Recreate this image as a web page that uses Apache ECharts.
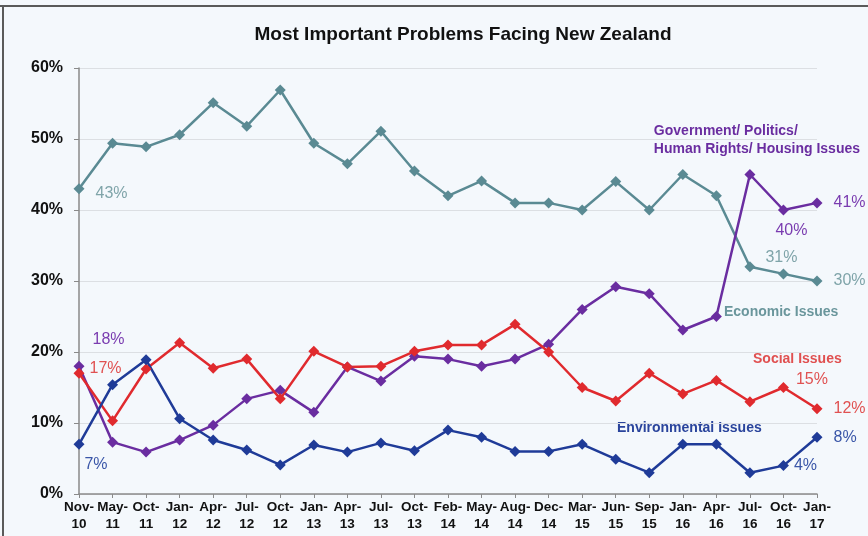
<!DOCTYPE html>
<html>
<head>
<meta charset="utf-8">
<script src="https://cdn.jsdelivr.net/npm/echarts@6/dist/echarts.min.js"></script>
<style>
  html, body { margin: 0; padding: 0; background: #ffffff; }
  #chart { width: 868px; height: 536px; }
</style>
</head>
<body>
<div id="chart"></div>
<script>
// Survey periods (two-line axis labels)
const categories = [
  'Nov-\n10', 'May-\n11', 'Oct-\n11', 'Jan-\n12', 'Apr-\n12', 'Jul-\n12', 'Oct-\n12',
  'Jan-\n13', 'Apr-\n13', 'Jul-\n13', 'Oct-\n13', 'Feb-\n14', 'May-\n14', 'Aug-\n14',
  'Dec-\n14', 'Mar-\n15', 'Jun-\n15', 'Sep-\n15', 'Jan-\n16', 'Apr-\n16', 'Jul-\n16',
  'Oct-\n16', 'Jan-\n17'
];

// Share of respondents naming each problem (%)
const economic = [43, 49.4, 48.9, 50.6, 55.1, 51.8, 56.9, 49.4, 46.5, 51.1, 45.5, 42, 44.1, 41, 41, 40, 44, 40, 45, 42, 32, 31, 30];
const government = [18, 7.3, 5.9, 7.6, 9.7, 13.4, 14.6, 11.5, 17.9, 15.9, 19.4, 19, 18, 19, 21.1, 26, 29.2, 28.2, 23.1, 25, 45, 40, 41];
const social = [17, 10.3, 17.6, 21.3, 17.7, 19, 13.4, 20.1, 17.9, 18, 20.1, 21, 21, 23.9, 20, 15, 13.1, 17, 14.1, 16, 13, 15, 12];
const environmental = [7, 15.4, 18.9, 10.6, 7.6, 6.2, 4.1, 6.9, 5.9, 7.2, 6.1, 9, 8, 6, 6, 7, 4.9, 3, 7, 7, 3, 4, 8];

const yTicks = [0, 10, 20, 30, 40, 50, 60];

const FONT = '"Liberation Sans", Arial, sans-serif';

// Attach a value label to selected points of a series
function withLabels(values, labelled, color) {
  return values.map((v, i) => {
    const cfg = labelled[i];
    if (!cfg) return v;
    return {
      value: v,
      label: Object.assign({
        show: true,
        formatter: Math.round(v) + '%',
        color: color,
        fontSize: 16,
        fontFamily: FONT
      }, cfg)
    };
  });
}

function lineSeries(name, values, color, labelColor, labelled) {
  return {
    name: name,
    type: 'line',
    data: withLabels(values, labelled, labelColor),
    symbol: 'diamond',
    symbolSize: 11,
    lineStyle: { color: color, width: 2.5 },
    itemStyle: { color: color },
    label: { show: false },
    z: 3
  };
}

const chart = echarts.init(document.getElementById('chart'));

chart.setOption({
  backgroundColor: '#f4f8fc',
  animation: false,
  title: {
    text: 'Most Important Problems Facing New Zealand',
    left: 458,
    top: 20,
    textAlign: 'center',
    textStyle: { fontFamily: FONT, fontWeight: 'bold', fontSize: 19, color: '#111' }
  },
  grid: { left: 79, right: 51, top: 68, bottom: 42 },
  xAxis: {
    type: 'category',
    data: categories,
    boundaryGap: false,
    axisLine: { lineStyle: { color: '#8a8a8a', width: 1.5 } },
    axisTick: { show: true, alignWithLabel: true, length: 4, lineStyle: { color: '#8a8a8a' } },
    axisLabel: {
      interval: 0,
      margin: 5,
      color: '#111',
      fontFamily: FONT,
      fontWeight: 'bold',
      fontSize: 13.5,
      lineHeight: 17
    },
    splitLine: { show: false }
  },
  yAxis: {
    type: 'value',
    min: yTicks[0],
    max: yTicks[yTicks.length - 1],
    interval: 10,
    axisLine: { show: true, lineStyle: { color: '#8a8a8a', width: 1.5 } },
    axisTick: { show: true, length: 5, lineStyle: { color: '#8a8a8a' } },
    axisLabel: {
      formatter: '{value}%',
      margin: 16,
      color: '#111',
      fontFamily: FONT,
      fontWeight: 'bold',
      fontSize: 16
    },
    splitLine: { lineStyle: { color: '#dcdfe3', width: 1 } }
  },
  series: [
    lineSeries('Economic Issues', economic, '#5a8a93', '#7fa4a9', {
      0: { position: 'right', offset: [6, 5] },
      21: { position: 'top', offset: [-2, 2] },
      22: { position: 'right', offset: [6, 0] }
    }),
    lineSeries('Government/ Politics/ Human Rights/ Housing Issues', government, '#6a2da0', '#7a3cb0', {
      0: { position: 'right', offset: [3, -27] },
      21: { position: 'bottom', offset: [8, 2] },
      22: { position: 'right', offset: [6, 0] }
    }),
    lineSeries('Social Issues', social, '#e02a2e', '#e05252', {
      0: { position: 'right', offset: [0, -5] },
      21: { position: 'right', offset: [2, -8] },
      22: { position: 'right', offset: [6, 0] }
    }),
    lineSeries('Environmental Issues', environmental, '#1f3b98', '#3a56a8', {
      0: { position: 'bottom', offset: [17, 2] },
      21: { position: 'right', offset: [0, 0] },
      22: { position: 'right', offset: [6, 0] }
    })
  ],
  graphic: [
    // frame edges along the top and left
    { type: 'rect', shape: { x: 0, y: 5, width: 868, height: 2 }, style: { fill: '#5a5a5a' }, silent: true },
    { type: 'rect', shape: { x: 2, y: 5, width: 2, height: 531 }, style: { fill: '#5a5a5a' }, silent: true },
    // series names
    {
      type: 'text', right: 8, top: 122,
      style: {
        text: 'Government/ Politics/\nHuman Rights/ Housing Issues',
        align: 'right', fill: '#6a2da0', font: 'bold 14px ' + FONT, lineHeight: 18
      }
    },
    {
      type: 'text', left: 724, top: 305,
      style: { text: 'Economic Issues', fill: '#6a969c', font: 'bold 14px ' + FONT }
    },
    {
      type: 'text', left: 753, top: 352,
      style: { text: 'Social Issues', fill: '#e05050', font: 'bold 14px ' + FONT }
    },
    {
      type: 'text', left: 617, top: 421,
      style: { text: 'Environmental Issues', fill: '#2a449c', font: 'bold 14px ' + FONT }
    }
  ]
});
</script>
</body>
</html>
